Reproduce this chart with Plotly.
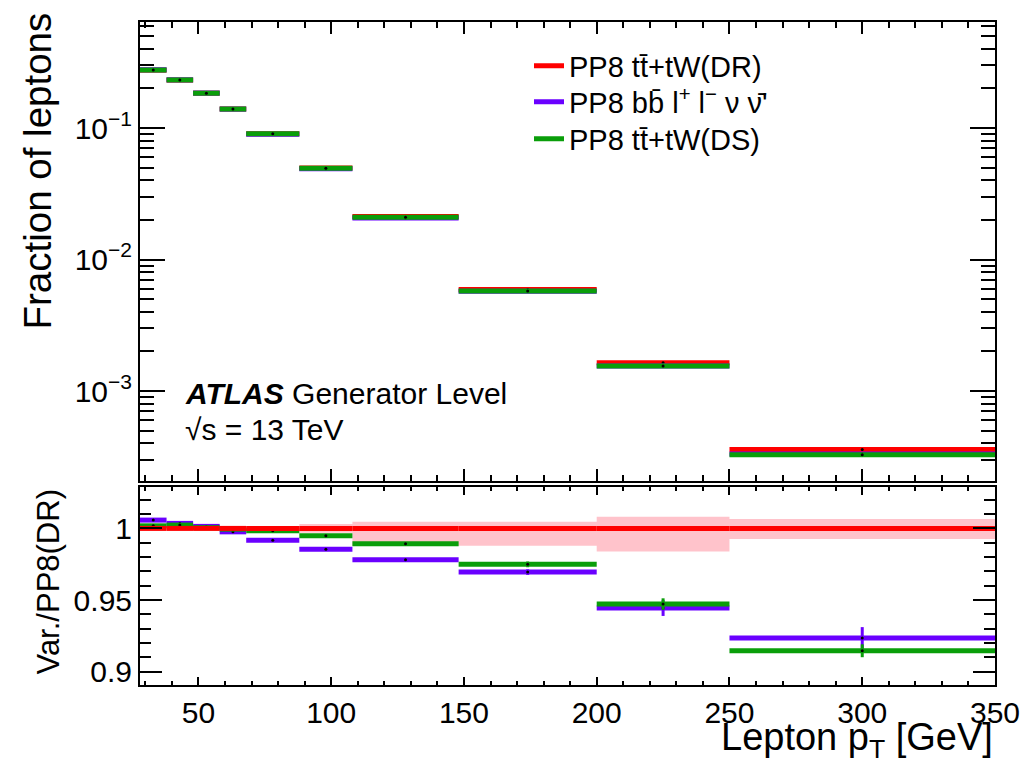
import plotly.graph_objects as go

# ---------------- data ----------------
bin_edges = [28, 38, 48, 58, 68, 88, 108, 148, 200, 250, 350]

frac_dr = [0.2755, 0.2315, 0.1840, 0.1395, 0.0905, 0.0496, 0.0212, 0.00592, 0.00164, 0.000359]
frac_bb = [0.2771, 0.2323, 0.1843, 0.1392, 0.0898, 0.0489, 0.0207, 0.00574, 0.00155, 0.000332]
frac_ds = [0.2760, 0.2320, 0.1840, 0.1394, 0.0903, 0.0494, 0.0210, 0.00577, 0.00155, 0.000328]

ratio_bb = [1.0058, 1.0035, 1.0014, 0.9976, 0.9918, 0.9854, 0.9781, 0.9695, 0.9444, 0.9235]
ratio_ds = [1.0018, 1.0023, 1.0005, 0.9995, 0.9983, 0.9948, 0.9893, 0.9749, 0.9472, 0.9146]
ratio_dr = [1.0] * 10

err_bb = [0.0005, 0.0005, 0.0005, 0.0005, 0.0006, 0.0008, 0.0010, 0.0020, 0.0055, 0.0076]
err_ds = [0.0005, 0.0005, 0.0005, 0.0005, 0.0006, 0.0008, 0.0010, 0.0020, 0.0040, 0.0045]

band_lo = [0.9990, 0.9990, 0.9990, 0.9990, 0.9990, 0.9970, 0.9879, 0.9879, 0.9838, 0.9926]
band_hi = [1.0010, 1.0010, 1.0010, 1.0010, 1.0010, 1.0030, 1.0046, 1.0046, 1.0081, 1.0065]

labels = ["PP8 tt\u0304+tW(DR)",
          "PP8 bb\u0304 l<sup>+</sup> l<sup>\u2212</sup> \u03bd \u03bd\u0304'",
          "PP8 tt\u0304+tW(DS)"]
colors = ["#ff0000", "#6a00ff", "#0a9e0a"]

x_ticks = [50, 100, 150, 200, 250, 300, 350]
y_ticks = [1e-3, 1e-2, 1e-1]
y_ticktext = ["10<sup>\u22123</sup>", "10<sup>\u22122</sup>", "10<sup>\u22121</sup>"]
r_ticks = [0.9, 0.95, 1.0]
r_ticktext = ["0.9", "0.95", "1"]

FONT = "Liberation Sans, Arial, Helvetica, sans-serif"

# page body margin is removed in the written page, so the figure fills the window
W, H = 1025, 770
PL, PR, PT, PB = 140, 995, 22, 685          # plot area in window pixels
ML, MT = PL, PT
MR, MB = W - PR, H - PB
PH = PB - PT


def py(ypix):
    """window pixel row -> paper y"""
    return (PB - ypix) / PH


def px(xpix):
    return (xpix - PL) / (PR - PL)


def segs(vals):
    xs, ys = [], []
    for i, v in enumerate(vals):
        xs += [bin_edges[i], bin_edges[i + 1], None]
        ys += [v, v, None]
    return xs, ys


centers = [(bin_edges[i] + bin_edges[i + 1]) / 2 for i in range(len(bin_edges) - 1)]

fig = go.Figure()

# ---------- top panel ----------
legend_ids = ["legend", "legend2", "legend3"]
for vals, lab, col, lg in [(frac_dr, labels[0], colors[0], legend_ids[0]),
                           (frac_bb, labels[1], colors[1], legend_ids[1]),
                           (frac_ds, labels[2], colors[2], legend_ids[2])]:
    xs, ys = segs(vals)
    fig.add_trace(go.Scatter(x=xs, y=ys, mode="lines", name=lab, legend=lg,
                             line=dict(color=col, width=5),
                             xaxis="x", yaxis="y", hoverinfo="skip"))
    fig.add_trace(go.Scatter(x=centers, y=vals, mode="markers", showlegend=False,
                             marker=dict(color="black", size=3),
                             xaxis="x", yaxis="y", hoverinfo="skip"))

# ---------- ratio panel ----------
bx, by = [], []
for i in range(len(band_lo)):
    bx += [bin_edges[i], bin_edges[i + 1], bin_edges[i + 1], bin_edges[i], bin_edges[i], None]
    by += [band_lo[i], band_lo[i], band_hi[i], band_hi[i], band_lo[i], None]
fig.add_trace(go.Scatter(x=bx, y=by, mode="lines", fill="toself",
                         fillcolor="#ffc3cb", line=dict(width=0, color="#ffc3cb"),
                         showlegend=False, xaxis="x2", yaxis="y2", hoverinfo="skip"))

for vals, errs, col in [(ratio_bb, err_bb, colors[1]), (ratio_ds, err_ds, colors[2])]:
    xs, ys = segs(vals)
    fig.add_trace(go.Scatter(x=xs, y=ys, mode="lines", showlegend=False,
                             line=dict(color=col, width=5),
                             xaxis="x2", yaxis="y2", hoverinfo="skip"))
    fig.add_trace(go.Scatter(x=centers, y=vals, mode="markers", showlegend=False,
                             marker=dict(color="black", size=3),
                             error_y=dict(type="data", array=errs, color=col,
                                          thickness=3, width=0),
                             xaxis="x2", yaxis="y2", hoverinfo="skip"))

xs, ys = segs(ratio_dr)
fig.add_trace(go.Scatter(x=xs, y=ys, mode="lines", showlegend=False,
                         line=dict(color=colors[0], width=5),
                         xaxis="x2", yaxis="y2", hoverinfo="skip"))

# ---------- axes ----------
common = dict(showgrid=False, zeroline=False, showline=True, linecolor="black",
              linewidth=2, ticks="inside", mirror="allticks", tickcolor="black",
              tickwidth=2, automargin=False, ticklabeloverflow="allow",
              tickfont=dict(family=FONT, size=30, color="black"))

minor_log = []
for d in [1e-4, 1e-3, 1e-2, 1e-1]:
    for k in range(2, 10):
        minor_log.append(k * d)


def legend_box(ycenter):
    return dict(x=px(529), y=py(ycenter), xanchor="left", yanchor="middle",
                bgcolor="rgba(0,0,0,0)", borderwidth=0,
                font=dict(family=FONT, size=29, color="black"),
                itemwidth=30, tracegroupgap=0)


fig.update_layout(
    width=W, height=H,
    paper_bgcolor="white", plot_bgcolor="white",
    margin=dict(l=ML, r=MR, t=MT, b=MB, autoexpand=False),
    font=dict(family=FONT, color="black"),
    xaxis=dict(common, domain=[0, 1], anchor="y", range=[28, 350],
               tickvals=x_ticks, ticklen=12, showticklabels=False,
               minor=dict(dtick=10, tick0=0, ticklen=6, ticks="inside",
                          tickcolor="black", tickwidth=2)),
    yaxis=dict(common, domain=[py(481), 1], anchor="x", type="log",
               range=[-3.684, -0.194], tickvals=y_ticks, ticktext=y_ticktext,
               ticklen=25,
               minor=dict(tickvals=minor_log, ticklen=14, ticks="inside",
                          tickcolor="black", tickwidth=2)),
    xaxis2=dict(common, domain=[0, 1], anchor="y2", range=[28, 350],
                tickvals=x_ticks, ticklen=8, matches="x",
                minor=dict(dtick=10, tick0=0, ticklen=4, ticks="inside",
                           tickcolor="black", tickwidth=2)),
    yaxis2=dict(common, domain=[0, py(487)], anchor="x2",
                range=[0.8907, 1.0289], tickvals=r_ticks, ticktext=r_ticktext,
                ticklen=22,
                minor=dict(dtick=0.01, tick0=0, ticklen=11, ticks="inside",
                           tickcolor="black", tickwidth=2)),
    legend=legend_box(66),
    legend2=legend_box(102),
    legend3=legend_box(139),
    showlegend=True,
)

# ---------- text ----------
fig.add_annotation(text="<b><i>ATLAS</i></b> Generator Level", xref="paper", yref="paper",
                   x=px(183), y=py(393), xanchor="left", yanchor="middle", showarrow=False,
                   font=dict(family=FONT, size=30, color="black"))
fig.add_annotation(text="\u221as = 13 TeV", xref="paper", yref="paper",
                   x=px(183), y=py(429), xanchor="left", yanchor="middle", showarrow=False,
                   font=dict(family=FONT, size=30, color="black"))
fig.add_annotation(text="Lepton p<sub>T</sub> [GeV]", xref="paper", yref="paper",
                   x=1.0, y=py(740), xanchor="right", yanchor="middle", showarrow=False,
                   font=dict(family=FONT, size=38, color="black"))
fig.add_annotation(text="Fraction of leptons", xref="paper", yref="paper",
                   x=px(37), y=py(11), xanchor="center", yanchor="top", textangle=-90,
                   showarrow=False, font=dict(family=FONT, size=38.5, color="black"))
fig.add_annotation(text="Var./PP8(DR)", xref="paper", yref="paper",
                   x=px(48), y=py(488), xanchor="center", yanchor="top", textangle=-90,
                   showarrow=False, font=dict(family=FONT, size=31, color="black"))

fig.write_html("out.html",
               config={"displayModeBar": False},
               post_script="document.body.style.margin='0';"
                           "document.body.style.overflow='hidden';")
